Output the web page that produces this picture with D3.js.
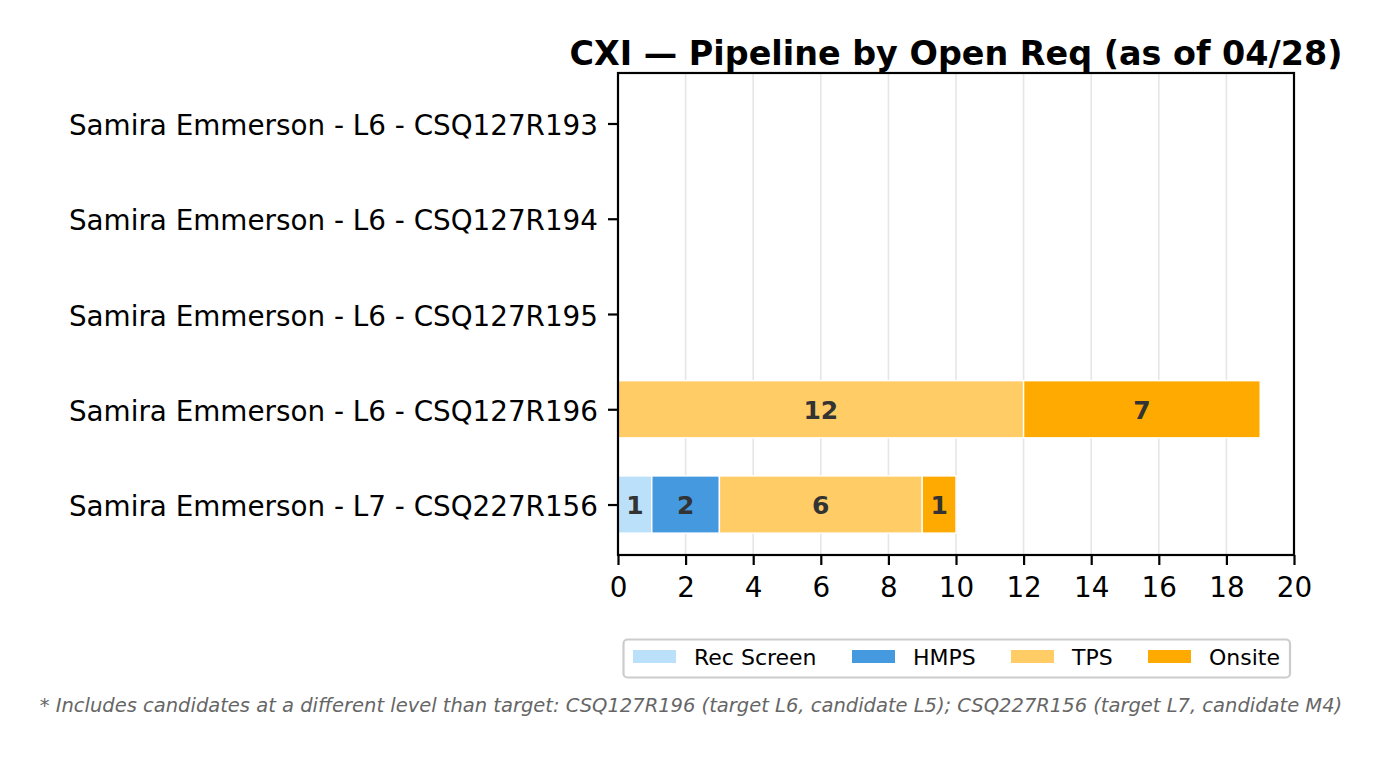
<!DOCTYPE html>
<html><head><meta charset="utf-8">
<script src="https://cdn.jsdelivr.net/npm/d3@7"></script>
<style>body{margin:0;background:#fff}svg{display:block;font-family:"DejaVu Sans",sans-serif}</style>
</head><body><div id="chart"></div>
<script>
const categories = [
  "Samira Emmerson - L7 - CSQ227R156",
  "Samira Emmerson - L6 - CSQ127R196",
  "Samira Emmerson - L6 - CSQ127R195",
  "Samira Emmerson - L6 - CSQ127R194",
  "Samira Emmerson - L6 - CSQ127R193"
];
const stages = ["Rec Screen", "HMPS", "TPS", "Onsite"];
const colors = ["#BBE1FA", "#4499DF", "#FFCC66", "#FFAA00"];
const recScreen = [1, 0, 0, 0, 0];
const hmps = [2, 0, 0, 0, 0];
const tps = [6, 12, 0, 0, 0];
const onsite = [1, 7, 0, 0, 0];
const xTicks = [0, 2, 4, 6, 8, 10, 12, 14, 16, 18, 20];
const title = "CXI — Pipeline by Open Req (as of 04/28)";
const footnote = "* Includes candidates at a different level than target: CSQ127R196 (target L6, candidate L5); CSQ227R156 (target L7, candidate M4)";

const W = 1383, H = 757;
const L = 618, R = 1294, T = 73, B = 555;
const svg = d3.select("#chart").append("svg").attr("width", W).attr("height", H);

const x = d3.scaleLinear().domain([0, 20]).range([L, R]);
const y = d3.scaleLinear().domain([-0.53, 4.53]).range([B, T]);
const barH = y(0) - y(0.6);

// grid
svg.append("g").selectAll("line").data(xTicks).join("line")
  .attr("x1", d => x(d)).attr("x2", d => x(d)).attr("y1", T).attr("y2", B)
  .attr("stroke", "#e6e6e6").attr("stroke-width", 1.6);

const series = [recScreen, hmps, tps, onsite];
const stacked = [];
categories.forEach((c, i) => {
  let acc = 0;
  series.forEach((s, k) => {
    const v = s[i];
    if (v > 0) stacked.push({i, k, x0: acc, x1: acc + v, v});
    acc += v;
  });
});

const g = svg.append("g");
g.selectAll("rect").data(stacked).join("rect")
  .attr("x", d => x(d.x0)).attr("width", d => x(d.x1) - x(d.x0))
  .attr("y", d => y(d.i) - barH / 2).attr("height", barH)
  .attr("fill", d => colors[d.k]).attr("stroke", "#fff").attr("stroke-width", 1.4);
g.selectAll("text").data(stacked).join("text")
  .attr("x", d => (x(d.x0) + x(d.x1)) / 2).attr("y", d => y(d.i))
  .attr("dy", "0.38em").attr("text-anchor", "middle")
  .attr("font-size", 25).attr("font-weight", "bold").attr("fill", "#333")
  .text(d => d.v);

// axes
const xAxis = svg.append("g").attr("transform", `translate(0,${B})`)
  .call(d3.axisBottom(x).tickValues(xTicks).tickSize(10).tickPadding(12));
xAxis.selectAll("text").attr("font-size", 27.8).attr("font-family", "DejaVu Sans").attr("fill", "#000");
xAxis.selectAll("line").attr("stroke", "#000").attr("stroke-width", 2.2);
xAxis.select(".domain").remove();

const yAxis = svg.append("g").attr("transform", `translate(${L},0)`)
  .call(d3.axisLeft(y).tickValues(categories.map((c, i) => i)).tickFormat(i => categories[i]).tickSize(10).tickPadding(10));
yAxis.selectAll("text").attr("font-size", 27.8).attr("font-family", "DejaVu Sans").attr("fill", "#000").attr("dy", "0.4em");
yAxis.selectAll("line").attr("stroke", "#000").attr("stroke-width", 2.2);
yAxis.select(".domain").remove();

svg.append("rect").attr("x", L).attr("y", T).attr("width", R - L).attr("height", B - T)
  .attr("fill", "none").attr("stroke", "#000").attr("stroke-width", 2.2);

svg.append("text").attr("x", (L + R) / 2).attr("y", 65).attr("text-anchor", "middle")
  .attr("font-size", 33.4).attr("font-weight", "bold").text(title);

// legend
const lg = svg.append("g");
lg.append("rect").attr("x", 623.5).attr("y", 639.5).attr("width", 666.5).attr("height", 38)
  .attr("rx", 4).attr("fill", "#fff").attr("stroke", "#cccccc").attr("stroke-width", 2.2);
const legX = [633, 852, 1011, 1148];
stages.forEach((s, k) => {
  lg.append("rect").attr("x", legX[k]).attr("y", 650).attr("width", 43).attr("height", 13).attr("fill", colors[k]);
  lg.append("text").attr("x", legX[k] + 61).attr("y", 665)
    .attr("font-size", 22).text(s);
});

svg.append("text").attr("x", 691).attr("y", 712).attr("text-anchor", "middle")
  .attr("font-size", 19.5).attr("font-style", "italic").attr("fill", "#666").text(footnote);
</script></body></html>
